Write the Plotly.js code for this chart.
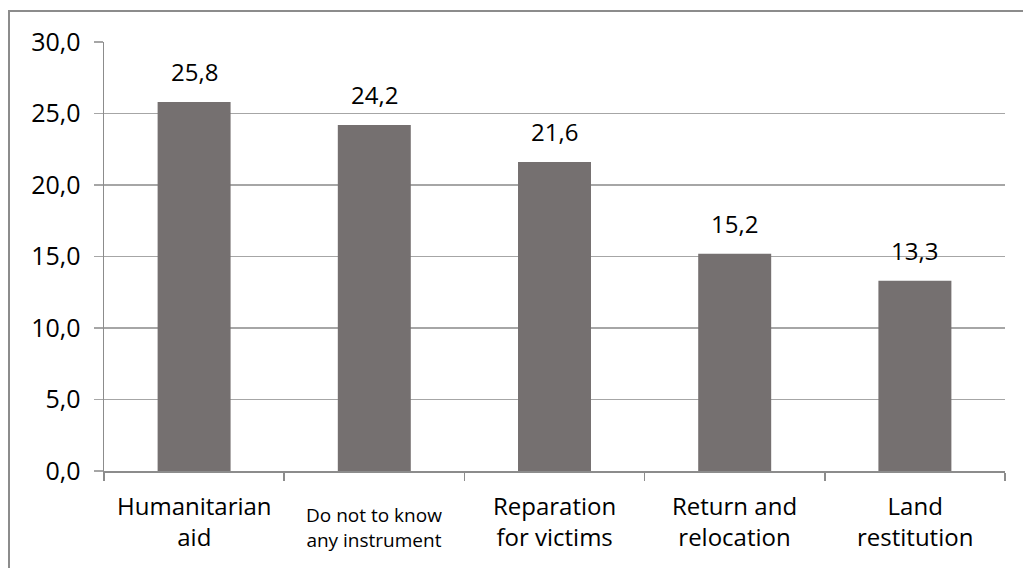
<!DOCTYPE html>
<html>
<head>
<meta charset="utf-8">
<script src="https://cdn.plot.ly/plotly-3.0.1.min.js"></script>
<style>
html,body{margin:0;padding:0;background:#fff;}
#wrap{position:relative;width:1023px;height:568px;}
#chart{width:1023px;height:568px;}
#frame{position:absolute;left:8px;top:10px;width:1030px;height:600px;border-left:2px solid #8c8c8c;border-top:2px solid #8c8c8c;pointer-events:none;}
</style>
</head>
<body>
<div id="wrap"><div id="chart"></div><div id="frame"></div></div>
<script>
const categories = ["Humanitarian aid", "Do not to know any instrument", "Reparation for victims", "Return and relocation", "Land restitution"];
const tickLabels = ["Humanitarian<br>aid", "Do not to know<br>any instrument", "Reparation<br>for victims", "Return and<br>relocation", "Land<br>restitution"];
const tickLabelSizes = [24, 19, 24, 24, 24];
const values = [25.8, 24.2, 21.6, 15.2, 13.3];
const yTicks = [0, 5, 10, 15, 20, 25, 30];

const fontFam = "Open Sans, Noto Sans, sans-serif";

const valueLabels = categories.map((c, i) => ({
  x: c, y: values[i], xref: "x", yref: "y",
  text: values[i].toFixed(1).replace(".", ","),
  showarrow: false, yanchor: "bottom", yshift: 12,
  font: {family: fontFam, size: 24, color: "#000"}
}));

const catLabels = categories.map((c, i) => ({
  x: c, y: 0, xref: "x", yref: "paper",
  text: tickLabels[i],
  showarrow: false, yanchor: "top",
  yshift: tickLabelSizes[i] === 24 ? -16 : -29,
  font: {family: fontFam, size: tickLabelSizes[i], color: "#000"}
}));

const trace = {
  type: "bar",
  x: categories,
  y: values,
  marker: {color: "#757070", line: {width: 0}},
  hoverinfo: "none"
};

const layout = {
  width: 1023, height: 568,
  margin: {l: 104, r: 18, t: 42, b: 97},
  paper_bgcolor: "#fff", plot_bgcolor: "#fff",
  separators: ",.",
  bargap: 0.595,
  showlegend: false,
  font: {family: fontFam, color: "#000"},
  xaxis: {
    type: "category",
    tickvals: categories,
    showticklabels: false,
    tickson: "boundaries",
    ticks: "outside", ticklen: 8, tickcolor: "#8c8c8c", tickwidth: 1.5,
    showline: true, linecolor: "#8c8c8c", linewidth: 1.5,
    showgrid: false, zeroline: false
  },
  yaxis: {
    range: [0, 30],
    tickvals: yTicks,
    tickformat: ".1f",
    ticks: "outside", ticklen: 9, tickcolor: "#a6a6a6", tickwidth: 1.5,
    showline: true, linecolor: "#8c8c8c", linewidth: 1.5,
    showgrid: true, gridcolor: "#a6a6a6", gridwidth: 1.5,
    zeroline: false,
    tickfont: {family: fontFam, size: 25, color: "#000"},
    ticklabelstandoff: 8
  },
  annotations: valueLabels.concat(catLabels)
};

Plotly.newPlot("chart", [trace], layout, {staticPlot: true, displayModeBar: false});
</script>
</body>
</html>
